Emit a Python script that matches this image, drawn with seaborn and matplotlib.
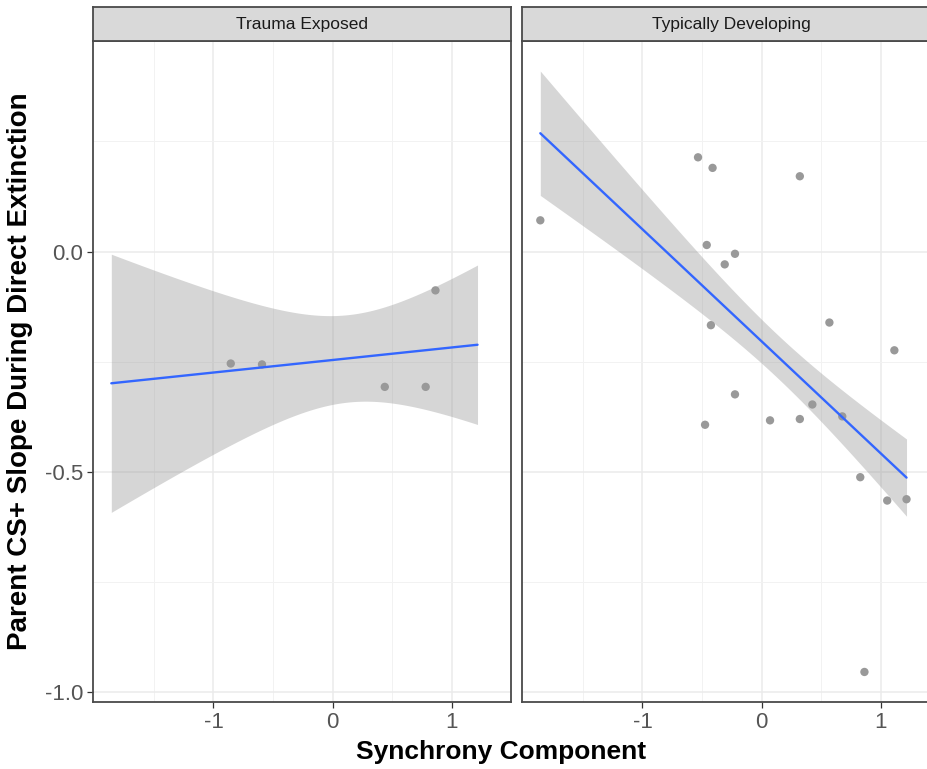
import math
import numpy as np
import pandas as pd
import seaborn as sns
import matplotlib.pyplot as plt

# facet labels
groups = ["Trauma Exposed", "Typically Developing"]

# Trauma Exposed points
te_x = [-0.855, -0.593, 0.437, 0.780, 0.862]
te_y = [-0.254, -0.256, -0.307, -0.307, -0.088]

# Typically Developing points
td_x = [-1.857, -0.534, -0.412, 0.320, -0.461, -0.224, -0.310, -0.426, 0.568, 1.113,
        -0.224, -0.475, 0.070, 0.320, 0.425, 0.676, 0.827, 1.053, 1.215, 0.862]
td_y = [0.071, 0.214, 0.190, 0.171, 0.015, -0.005, -0.029, -0.167, -0.161, -0.224,
        -0.324, -0.393, -0.383, -0.380, -0.347, -0.374, -0.512, -0.565, -0.562, -0.954]

# band width in the picture is narrower than a plain 95% lm band -> level per panel
ci_level = [0.885, 0.63]

x_ticks = [-1, 0, 1]
y_ticks = [-1.0, -0.5, 0.0]

df = pd.DataFrame({
    "sync": te_x + td_x,
    "slope": te_y + td_y,
    "group": [groups[0]] * len(te_x) + [groups[1]] * len(td_x),
})


def t_quantile(p, dof):
    grid = np.linspace(0, 30, 300001)
    c = math.gamma((dof + 1) / 2) / (math.sqrt(dof * math.pi) * math.gamma(dof / 2))
    pdf = c * (1 + grid ** 2 / dof) ** (-(dof + 1) / 2)
    cdf = 0.5 + np.concatenate([[0], np.cumsum((pdf[1:] + pdf[:-1]) / 2 * np.diff(grid))])
    return grid[np.searchsorted(cdf, p)]


def lm_fit(x, y, grid, level=0.95):
    x = np.asarray(x)
    y = np.asarray(y)
    n = len(x)
    xm = x.mean()
    sxx = ((x - xm) ** 2).sum()
    b = ((x - xm) * (y - y.mean())).sum() / sxx
    a = y.mean() - b * xm
    res = y - (a + b * x)
    s = math.sqrt((res ** 2).sum() / (n - 2))
    fit = a + b * grid
    se = s * np.sqrt(1 / n + (grid - xm) ** 2 / sxx)
    t = t_quantile(0.5 + level / 2, n - 2)
    return fit, fit - t * se, fit + t * se


sns.set_theme(style="white")
plt.rcParams["font.family"] = ["Liberation Sans", "DejaVu Sans"]

W, H = 928, 769
fig = plt.figure(figsize=(W / 100, H / 100), dpi=100)

# fullrange smooth over the shared x scale
xmin, xmax = df["sync"].min(), df["sync"].max()
grid = np.linspace(xmin, xmax, 120)

fits = {}
for i, g in enumerate(groups):
    sub = df[df["group"] == g]
    fits[g] = lm_fit(sub["sync"], sub["slope"], grid, ci_level[i])

ylo = min(df["slope"].min(), min(f[1].min() for f in fits.values()))
yhi = max(df["slope"].max(), max(f[2].max() for f in fits.values()))
xpad = (xmax - xmin) * 0.05
ypad = (yhi - ylo) * 0.05

panel_top, panel_bot = 41, 702
panel_w = 418.5
lefts = [93, 522]
border = "#4a4a4a"

for i, g in enumerate(groups):
    ax = fig.add_axes([lefts[i] / W, 1 - panel_bot / H, panel_w / W, (panel_bot - panel_top) / H])
    sub = df[df["group"] == g]
    fit, lo, hi = fits[g]
    sns.scatterplot(data=sub, x="sync", y="slope", ax=ax, color="#999999", s=36,
                    edgecolor="none", zorder=2)
    ax.fill_between(grid, lo, hi, color="#999999", alpha=0.4, lw=0, zorder=3)
    sns.lineplot(x=grid, y=fit, ax=ax, color="#3366FF", lw=1.7, zorder=4)

    ax.set_xlim(xmin - xpad, xmax + xpad)
    ax.set_ylim(ylo - ypad, yhi + ypad)
    ax.set_xticks(x_ticks)
    ax.set_yticks(y_ticks)
    ax.set_xticks([-1.5, -0.5, 0.5, 1.5], minor=True)
    ax.set_yticks([-0.75, -0.25, 0.25], minor=True)
    ax.grid(True, which="major", color="#EBEBEB", lw=1.1, zorder=0)
    ax.grid(True, which="minor", color="#F2F2F2", lw=0.7, zorder=0)
    ax.set_axisbelow(True)
    ax.set_xlabel("")
    ax.set_ylabel("")
    ax.tick_params(axis="both", which="major", length=4, width=0.9, color="#333333",
                   labelsize=16, labelcolor="#555555", pad=3, bottom=True, left=(i == 0))
    ax.tick_params(axis="both", which="minor", length=0)
    if i == 1:
        ax.set_yticklabels([])
    ax.set_xticklabels([f"{t:g}" for t in x_ticks])
    if i == 0:
        ax.set_yticklabels([f"{t:.1f}" for t in y_ticks])
    for sp in ax.spines.values():
        sp.set_color(border)
        sp.set_linewidth(1.3)

    strip = fig.add_axes([lefts[i] / W, 1 - panel_top / H, panel_w / W, 34 / H])
    strip.set_facecolor("#D9D9D9")
    strip.set_xticks([])
    strip.set_yticks([])
    for sp in strip.spines.values():
        sp.set_color(border)
        sp.set_linewidth(1.3)
    strip.text(0.5, 0.48, g, ha="center", va="center", fontsize=12.5, color="#1A1A1A",
               transform=strip.transAxes)

fig.text(501 / W, 1 - 752 / H, "Synchrony Component", ha="center", va="center",
         fontsize=19, fontweight="bold", color="black")
fig.text(20 / W, 1 - 371 / H, "Parent CS+ Slope During Direct Extinction", ha="center",
         va="center", rotation=90, fontsize=20, fontweight="bold", color="black")

fig.savefig("out.png", dpi=100)
